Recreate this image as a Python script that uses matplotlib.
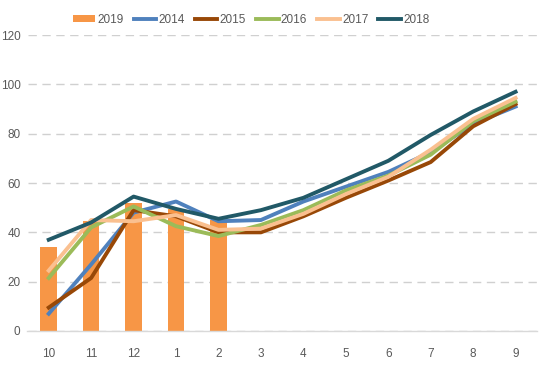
import numpy as np
import matplotlib.pyplot as plt
from matplotlib import font_manager

months = ["10", "11", "12", "1", "2", "3", "4", "5", "6", "7", "8", "9"]

bar_2019 = [34, 44.5, 52, 49.5, 45]

line_years = ["2014", "2015", "2016", "2017", "2018"]
y2014 = [7, 27, 48, 52.5, 44.5, 45, 52.5, 58.5, 64.5, 72.5, 84, 91]
y2015 = [9.5, 21.5, 49, 46.5, 40, 40, 46.5, 54, 61, 68.5, 83, 92]
y2016 = [21.5, 42, 50.5, 42.5, 38.5, 43, 49, 57, 63, 71.5, 85, 93]
y2017 = [24.5, 45, 44.5, 47, 41, 41.5, 47.5, 55.5, 62.5, 73.5, 86, 94.5]
y2018 = [37, 44, 54.5, 49.5, 45.5, 49, 54, 61.5, 69, 79.5, 89, 97]

bar_color = "#F79646"
line_colors = ["#4F81BD", "#984807", "#9BBB59", "#FAC090", "#215967"]

names = set(f.name for f in font_manager.fontManager.ttflist)
fam = "Liberation Sans Narrow" if "Liberation Sans Narrow" in names else "Liberation Sans"
plt.rcParams['font.family'] = [fam, 'DejaVu Sans']

fig = plt.figure(figsize=(5.5, 3.69), dpi=100)
ax = fig.add_axes([0.05, 0.103, 0.926, 0.802])

x = np.arange(len(months))
bars = ax.bar(x[:len(bar_2019)], bar_2019, width=0.39, color=bar_color, label="2019", zorder=2)
handles = [bars]
for name, vals, c in zip(line_years, [y2014, y2015, y2016, y2017, y2018], line_colors):
    ln, = ax.plot(x, vals, color=c, lw=2.8, label=name, zorder=3)
    handles.append(ln)

ax.set_xlim(-0.5, 11.5)
ax.set_ylim(0, 120)
ax.set_yticks(range(0, 121, 20))
ax.set_xticks(x)
ax.set_xticklabels(months)
for s in ["top", "right", "left"]:
    ax.spines[s].set_visible(False)
ax.spines["bottom"].set_color("#D9D9D9")
ax.spines["bottom"].set_linewidth(1)
ax.yaxis.grid(True, color="#D0D0D0", linestyle=(0, (6, 4)), lw=1)
ax.set_axisbelow(True)
ax.tick_params(length=0, labelsize=8.5, colors="#595959")
ax.tick_params(axis="x", pad=12)
ax.tick_params(axis="y", pad=5)

ax.legend(handles=handles, labels=["2019"] + line_years,
          loc="lower left", bbox_to_anchor=(0.07, 1.0), ncol=6, frameon=False,
          fontsize=8.5, labelcolor="#595959", handlelength=1.9, handleheight=0.6,
          handletextpad=0.2, columnspacing=0.85, borderpad=0.0, borderaxespad=0.8)

fig.savefig("out.png", dpi=100)
